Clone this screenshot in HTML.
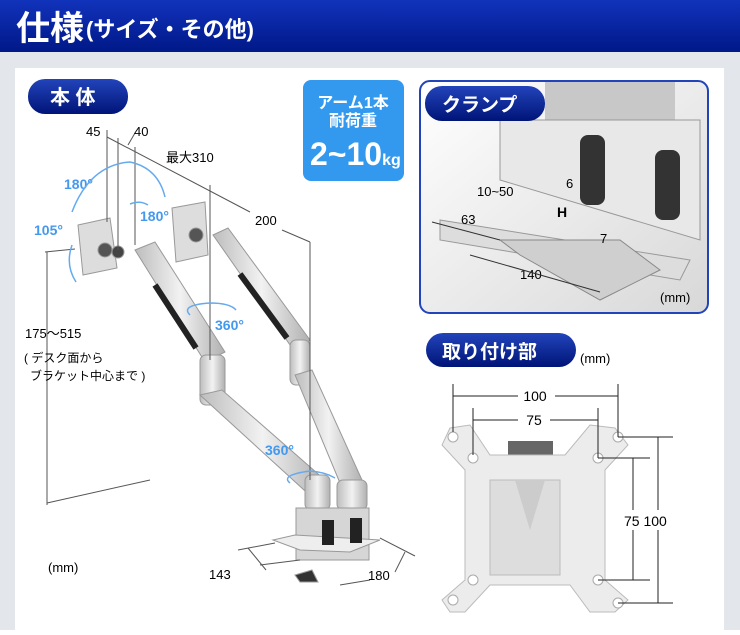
<!DOCTYPE html>
<html><head><meta charset="utf-8"><style>
body{margin:0;width:740px;height:630px;overflow:hidden;font-family:"Liberation Sans","Noto Sans CJK JP",sans-serif}
</style></head><body>
<svg width="740" height="630" xmlns="http://www.w3.org/2000/svg" font-family="Liberation Sans, Noto Sans CJK JP, sans-serif">
<defs>
<linearGradient id="hd" x1="0" y1="0" x2="0" y2="1"><stop offset="0" stop-color="#1133bb"/><stop offset="1" stop-color="#001888"/></linearGradient>
<linearGradient id="pill" x1="0" y1="0" x2="0" y2="1"><stop offset="0" stop-color="#2244bb"/><stop offset="1" stop-color="#001477"/></linearGradient>
<linearGradient id="arm" x1="0" y1="0" x2="1" y2="0"><stop offset="0" stop-color="#bdbdbd"/><stop offset="0.5" stop-color="#f2f2f2"/><stop offset="1" stop-color="#b0b0b0"/></linearGradient>
<linearGradient id="clbg" x1="0" y1="0" x2="1" y2="1"><stop offset="0" stop-color="#ffffff"/><stop offset="1" stop-color="#d8d8d8"/></linearGradient>
</defs>
<rect width="740" height="630" fill="#e3e7eb"/>
<rect width="740" height="52" fill="url(#hd)"/>
<text x="16" y="40" fill="#fff" font-size="34" font-weight="bold">仕様</text>
<text x="86" y="37" fill="#fff" font-size="22" font-weight="bold">(サイズ・その他)</text>
<rect x="15" y="68" width="709" height="562" fill="#fff"/>
<rect x="28" y="79" width="100" height="35" rx="17" fill="url(#pill)"/>
<text x="50" y="104" fill="#fff" font-size="20" font-weight="bold">本 体</text>
<rect x="303" y="80" width="101" height="101" rx="8" fill="#3399ee"/>
<text x="353" y="108" fill="#fff" font-size="16" font-weight="bold" text-anchor="middle">アーム1本</text>
<text x="353" y="126" fill="#fff" font-size="16" font-weight="bold" text-anchor="middle">耐荷重</text>
<text x="310" y="165" fill="#fff" font-size="32" font-weight="bold">2~10<tspan font-size="16">kg</tspan></text>
<g stroke="#999" stroke-width="1">
<polygon points="135,250 155,242 225,352 205,362" fill="url(#arm)"/>
<line x1="155" y1="285" x2="196" y2="348" stroke="#222" stroke-width="6"/>
<rect x="200" y="355" width="25" height="50" rx="6" fill="url(#arm)"/>
<polygon points="200,395 222,390 325,480 315,500" fill="url(#arm)"/>
<rect x="305" y="475" width="25" height="35" rx="6" fill="url(#arm)"/>
<polygon points="213,235 228,228 310,340 295,352" fill="url(#arm)"/>
<line x1="240" y1="274" x2="287" y2="338" stroke="#222" stroke-width="6"/>
<rect x="290" y="340" width="20" height="45" rx="6" fill="url(#arm)"/>
<polygon points="295,375 312,370 362,480 345,495" fill="url(#arm)"/>
<rect x="337" y="480" width="30" height="30" rx="6" fill="url(#arm)"/>
<rect x="296" y="508" width="73" height="52" fill="#d6d6d6"/>
<polygon points="273,540 295,535 380,540 350,552 300,550" fill="#eee"/>
<rect x="322" y="520" width="12" height="25" fill="#222" stroke="none"/>
<rect x="350" y="518" width="12" height="25" fill="#222" stroke="none"/>
<polygon points="295,575 312,570 318,582 300,582" fill="#333"/>
<polygon points="78,225 110,218 117,268 83,275" fill="#ddd"/>
<circle cx="105" cy="250" r="7" fill="#555"/><circle cx="118" cy="252" r="6" fill="#444"/>
<polygon points="172,208 205,202 208,255 176,262" fill="#ddd"/>
<circle cx="196" cy="235" r="7" fill="#555"/>
</g>
<g stroke="#555" stroke-width="1" fill="none">
<line x1="107" y1="137" x2="250" y2="212"/>
<line x1="282" y1="230" x2="310" y2="242"/>
<line x1="107" y1="130" x2="107" y2="222"/>
<line x1="118" y1="138" x2="118" y2="250"/>
<line x1="135" y1="147" x2="135" y2="245"/>
<line x1="210" y1="185" x2="210" y2="360"/>
<line x1="310" y1="242" x2="310" y2="480"/>
<line x1="128" y1="145" x2="135" y2="133"/>
<line x1="45" y1="252" x2="75" y2="249"/>
<line x1="47" y1="252" x2="47" y2="505"/>
<line x1="47" y1="503" x2="150" y2="480"/>
<line x1="238" y1="550" x2="275" y2="543"/>
<line x1="248" y1="548" x2="266" y2="570"/>
<line x1="260" y1="565" x2="300" y2="560"/>
<line x1="380" y1="538" x2="415" y2="556"/>
<line x1="405" y1="552" x2="395" y2="572"/>
<line x1="340" y1="585" x2="370" y2="580"/>
</g>
<text x="86" y="136" font-size="13">45</text>
<text x="134" y="136" font-size="13">40</text>
<text x="166" y="162" font-size="13">最大310</text>
<text x="255" y="225" font-size="13">200</text>
<text x="25" y="338" font-size="13">175～515</text>
<text x="24" y="362" font-size="12">( デスク面から</text>
<text x="30" y="380" font-size="12">ブラケット中心まで )</text>
<text x="48" y="572" font-size="13">(mm)</text>
<text x="209" y="579" font-size="13">143</text>
<text x="368" y="580" font-size="13">180</text>
<g fill="#4499ee" font-size="14" font-weight="bold">
<text x="64" y="189">180°</text><text x="140" y="221">180°</text>
<text x="34" y="235">105°</text><text x="215" y="330">360°</text><text x="265" y="455">360°</text>
</g>
<g fill="none" stroke="#66aaee" stroke-width="1.5">
<path d="M72 212 Q90 165 130 162 Q158 168 165 197"/>
<path d="M130 204 Q140 200 148 205"/>
<path d="M72 245 Q65 265 76 282"/>
<path d="M190 315 Q180 305 210 303 Q230 303 236 310"/>
<path d="M290 483 Q280 475 310 471 Q325 472 335 478"/>
</g>
<rect x="420" y="81" width="288" height="232" rx="10" fill="url(#clbg)" stroke="#2244bb" stroke-width="2"/>
<rect x="545" y="82" width="130" height="50" fill="#c8c8c8"/>
<polygon points="500,120 700,120 700,240 500,180" fill="#e8e8e8" stroke="#999"/>
<rect x="580" y="135" width="25" height="70" rx="8" fill="#333"/>
<rect x="655" y="150" width="25" height="70" rx="8" fill="#333"/>
<polygon points="440,220 690,260 680,280 500,250 440,240" fill="#ddd" stroke="#999"/>
<polygon points="500,240 620,240 660,270 600,300 520,255" fill="#cfcfcf" stroke="#888"/>
<rect x="425" y="86" width="120" height="35" rx="17" fill="url(#pill)"/>
<text x="442" y="111" fill="#fff" font-size="19" font-weight="bold">クランプ</text>
<g font-size="13"><text x="477" y="196">10~50</text><text x="566" y="188">6</text><text x="461" y="224">63</text><text x="600" y="243">7</text><text x="520" y="279">140</text><text x="660" y="302">(mm)</text></g>
<text x="557" y="217" font-size="14" font-weight="bold">H</text>
<g stroke="#333"><line x1="432" y1="222" x2="500" y2="240"/><line x1="470" y1="255" x2="600" y2="292"/></g>
<rect x="426" y="333" width="150" height="34" rx="17" fill="url(#pill)"/>
<text x="442" y="358" fill="#fff" font-size="19" font-weight="bold">取り付け部</text>
<text x="580" y="363" font-size="13">(mm)</text>
<rect x="508" y="441" width="45" height="16" fill="#666"/>
<polygon points="450,428 470,425 490,455 565,455 590,425 615,428 628,445 605,470 605,580 628,600 615,612 590,612 570,585 490,585 465,612 450,612 442,600 465,580 465,470 442,445" fill="#ececec" stroke="#bbb"/>
<rect x="490" y="480" width="70" height="95" fill="#ddd" stroke="#bbb"/>
<polygon points="515,480 545,480 530,530" fill="#ccc"/>
<g fill="#fff" stroke="#aaa"><circle cx="453" cy="437" r="5"/><circle cx="618" cy="437" r="5"/><circle cx="473" cy="458" r="5"/><circle cx="598" cy="458" r="5"/><circle cx="473" cy="580" r="5"/><circle cx="598" cy="580" r="5"/><circle cx="453" cy="600" r="5"/><circle cx="618" cy="603" r="5"/></g>
<g stroke="#222" fill="none">
<line x1="453" y1="384" x2="453" y2="432"/><line x1="618" y1="384" x2="618" y2="437"/>
<line x1="453" y1="396" x2="518" y2="396"/><line x1="555" y1="396" x2="618" y2="396"/>
<line x1="473" y1="408" x2="473" y2="455"/><line x1="598" y1="408" x2="598" y2="458"/>
<line x1="473" y1="420" x2="518" y2="420"/><line x1="550" y1="420" x2="598" y2="420"/>
<line x1="618" y1="437" x2="673" y2="437"/><line x1="618" y1="603" x2="673" y2="603"/>
<line x1="658" y1="437" x2="658" y2="603"/>
<line x1="598" y1="458" x2="650" y2="458"/><line x1="598" y1="580" x2="650" y2="580"/>
<line x1="633" y1="458" x2="633" y2="580"/>
</g>
<text x="535" y="401" font-size="14" text-anchor="middle">100</text>
<text x="534" y="425" font-size="14" text-anchor="middle">75</text>
<rect x="622" y="510" width="86" height="20" fill="#fff"/>
<text x="624" y="526" font-size="14">75 100</text>
</svg>
</body></html>
